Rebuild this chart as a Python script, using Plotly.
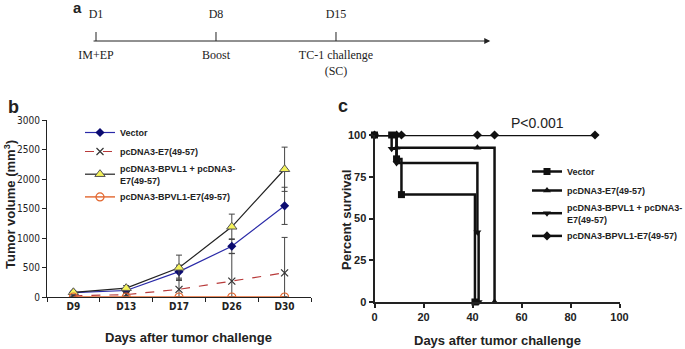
import plotly.graph_objects as go

W, H = 685, 349

# ---------------- Panel a: timeline ----------------
timeline_days = [1, 8, 15]
timeline_top = ["D1", "D8", "D15"]
timeline_bottom = ["IM+EP", "Boost", "TC-1 challenge<br>(SC)"]
timeline_end = 24

# ---------------- Panel b: tumor volume ----------------
categories = ["D9", "D13", "D17", "D26", "D30"]
vector_vol = [75, 110, 430, 860, 1545]
vector_err = [15, 30, 110, 125, 315]
e7_vol = [20, 40, 130, 270, 410]
e7_err = [10, 20, 170, 470, 600]
combo_vol = [80, 150, 495, 1190, 2165]
combo_err = [20, 45, 215, 215, 375]
fused_vol = [0, 0, 0, 0, 0]
fused_err = [5, 5, 5, 5, 5]

# ---------------- Panel c: survival ----------------
vec_days = [0, 7, 9, 11, 41]
vec_surv = [100, 100, 85.7, 64.3, 0]
e7_days = [0, 9, 42, 49]
e7_surv = [100, 92.3, 92.3, 0]
combo_days = [0, 7, 9, 42, 42.5]
combo_surv = [100, 91.7, 83.3, 41.7, 0]
fused_days = [0, 9, 11, 42, 49, 90]
fused_surv = [100, 100, 100, 100, 100, 100]

names = ["Vector", "pcDNA3-E7(49-57)", "pcDNA3-BPVL1 + pcDNA3-<br>E7(49-57)", "pcDNA3-BPVL1-E7(49-57)"]

def px_x(p):
    return p / W

def px_y(p):
    return 1 - p / H

SANS = "Liberation Sans, Arial, sans-serif"
NARROW = "Liberation Sans Narrow, Arial Narrow, DejaVu Sans Condensed, sans-serif"
SERIF = "Liberation Serif, Times New Roman, serif"

fig = go.Figure()

# timeline ticks
tx, ty = [], []
for d in timeline_days:
    tx += [d, d, None]
    ty += [0, 0.9, None]
fig.add_trace(go.Scatter(x=tx, y=ty, mode="lines", line=dict(color="#222", width=1),
                         xaxis="x3", yaxis="y3", showlegend=False, hoverinfo="skip"))
fig.add_trace(go.Scatter(x=timeline_days, y=[2.0] * 3, mode="text", text=timeline_top,
                         textposition="top center", textfont=dict(family=SERIF, size=12, color="#222"),
                         xaxis="x3", yaxis="y3", showlegend=False))
fig.add_trace(go.Scatter(x=timeline_days, y=[-0.9] * 3, mode="text", text=timeline_bottom,
                         textposition="bottom center", textfont=dict(family=SERIF, size=12, color="#222"),
                         xaxis="x3", yaxis="y3", showlegend=False))
fig.add_annotation(x=timeline_end, y=0, ax=timeline_days[0] - 0.23, ay=0, xref="x3", yref="y3",
                   axref="x3", ayref="y3", showarrow=True, arrowhead=2, arrowsize=1.2,
                   arrowwidth=1, arrowcolor="#222", text="")

# panel b traces
err_style = dict(type="data", visible=True, color="#444", thickness=1, width=3)
fig.add_trace(go.Scatter(x=categories, y=vector_vol, name="<b>" + names[0] + "</b>", mode="lines+markers",
                         line=dict(color="#2a2aa8", width=1.2),
                         marker=dict(symbol="diamond", size=7, color="#0b0b70"),
                         error_y=dict(array=vector_err, **err_style), legend="legend"))
fig.add_trace(go.Scatter(x=categories, y=e7_vol, name="<b>" + names[1] + "</b>", mode="lines+markers",
                         line=dict(color="#b83a3a", width=1.2, dash="dash"),
                         marker=dict(symbol="x-thin-open", size=7, color="#333", line=dict(width=1.2, color="#333")),
                         error_y=dict(array=e7_err, **err_style), legend="legend"))
fig.add_trace(go.Scatter(x=categories, y=combo_vol, name="<b>" + names[2] + "</b>", mode="lines+markers",
                         line=dict(color="#222", width=1.2),
                         marker=dict(symbol="triangle-up", size=9, color="#f4f25a", line=dict(width=1, color="#555")),
                         error_y=dict(array=combo_err, **err_style), legend="legend"))
fig.add_trace(go.Scatter(x=categories, y=fused_vol, name="<b>" + names[3] + "</b>", mode="lines+markers",
                         line=dict(color="#e2662e", width=1.4),
                         marker=dict(symbol="circle-open", size=8, color="#e2662e", line=dict(width=1.2)),
                         error_y=dict(array=fused_err, **err_style), legend="legend"))

# panel c traces
surv_sets = [(vec_days, vec_surv, "square"), (e7_days, e7_surv, "triangle-up"),
             (combo_days, combo_surv, "triangle-down"), (fused_days, fused_surv, "diamond")]
for (d, s, sym), nm in zip(surv_sets, names):
    fig.add_trace(go.Scatter(x=d, y=s, name="<b>" + nm + "</b>", mode="lines+markers", line_shape="hv",
                             line=dict(color="#111", width=2.5),
                             marker=dict(symbol=sym, size=7, color="#111"),
                             xaxis="x2", yaxis="y2", legend="legend2", cliponaxis=False))

axis_common = dict(showgrid=False, zeroline=False, showline=True, linecolor="#222", ticks="outside",
                   tickcolor="#222", automargin=False)

fig.update_layout(
    width=W, height=H, autosize=False, margin=dict(l=0, r=0, t=0, b=0, pad=0, autoexpand=False),
    paper_bgcolor="white", plot_bgcolor="white",
    xaxis=dict(domain=[px_x(47), px_x(311)], type="category", range=[-0.5, 4.5], tickson="boundaries",
               ticklen=4, linewidth=1, tickfont=dict(family=NARROW, size=10, color="#222", weight="bold"),
               anchor="y", **axis_common),
    yaxis=dict(domain=[px_y(297), px_y(120)], range=[0, 3000], dtick=500, ticklen=4, linewidth=1,
               tickfont=dict(family=NARROW, size=10, color="#222"), anchor="x", **axis_common),
    xaxis2=dict(domain=[px_x(374.5), px_x(619.5)], range=[0, 100], dtick=20, ticklen=4, linewidth=2,
                tickwidth=2, tickfont=dict(family=SANS, size=11, color="#222", weight="bold"),
                anchor="y2", **axis_common),
    yaxis2=dict(domain=[px_y(302), px_y(135)], range=[0, 100], dtick=25, ticklen=4, linewidth=2,
                tickwidth=2, tickfont=dict(family=SANS, size=11, color="#222", weight="bold"),
                anchor="x2", **axis_common),
    xaxis3=dict(domain=[0, 1], range=[-4.6, 35.36], visible=False, anchor="y3"),
    yaxis3=dict(domain=[px_y(90), 1], range=[-4.9, 4.1], visible=False, anchor="x3"),
    legend=dict(x=px_x(80), y=px_y(118), xanchor="left", yanchor="top", bgcolor="rgba(0,0,0,0)",
                font=dict(family=SANS, size=9, color="#222"), itemwidth=30, tracegroupgap=0),
    legend2=dict(x=px_x(527), y=px_y(157), xanchor="left", yanchor="top", bgcolor="rgba(0,0,0,0)",
                 font=dict(family=SANS, size=9, color="#222"), itemwidth=30, tracegroupgap=0),
    showlegend=True,
)

ann = [
    dict(text="<b>a</b>", x=px_x(77), y=px_y(8), font=dict(family=SANS, size=15)),
    dict(text="<b>b</b>", x=px_x(13), y=px_y(107), font=dict(family=SANS, size=18)),
    dict(text="<b>c</b>", x=px_x(343), y=px_y(106), font=dict(family=SANS, size=18)),
    dict(text="<b>Tumor volume (mm<sup>3</sup>)</b>", x=px_x(10), y=px_y(205), textangle=-90,
         font=dict(family=SANS, size=13)),
    dict(text="<b>Days after tumor challenge</b>", x=px_x(188), y=px_y(337), font=dict(family=SANS, size=13)),
    dict(text="<b>Percent survival</b>", x=px_x(346), y=px_y(220), textangle=-90, font=dict(family=SANS, size=13)),
    dict(text="<b>Days after tumor challenge</b>", x=px_x(497), y=px_y(340), font=dict(family=SANS, size=13)),
    dict(text="P<0.001", x=px_x(537), y=px_y(123), font=dict(family=SANS, size=14)),
]
for a in ann:
    a.setdefault("xref", "paper")
    a.setdefault("yref", "paper")
    a["showarrow"] = False
    a["xanchor"] = "center"
    a["yanchor"] = "middle"
    a["font"]["color"] = "#222"
    fig.add_annotation(**a)

fig.write_html("out.html")
